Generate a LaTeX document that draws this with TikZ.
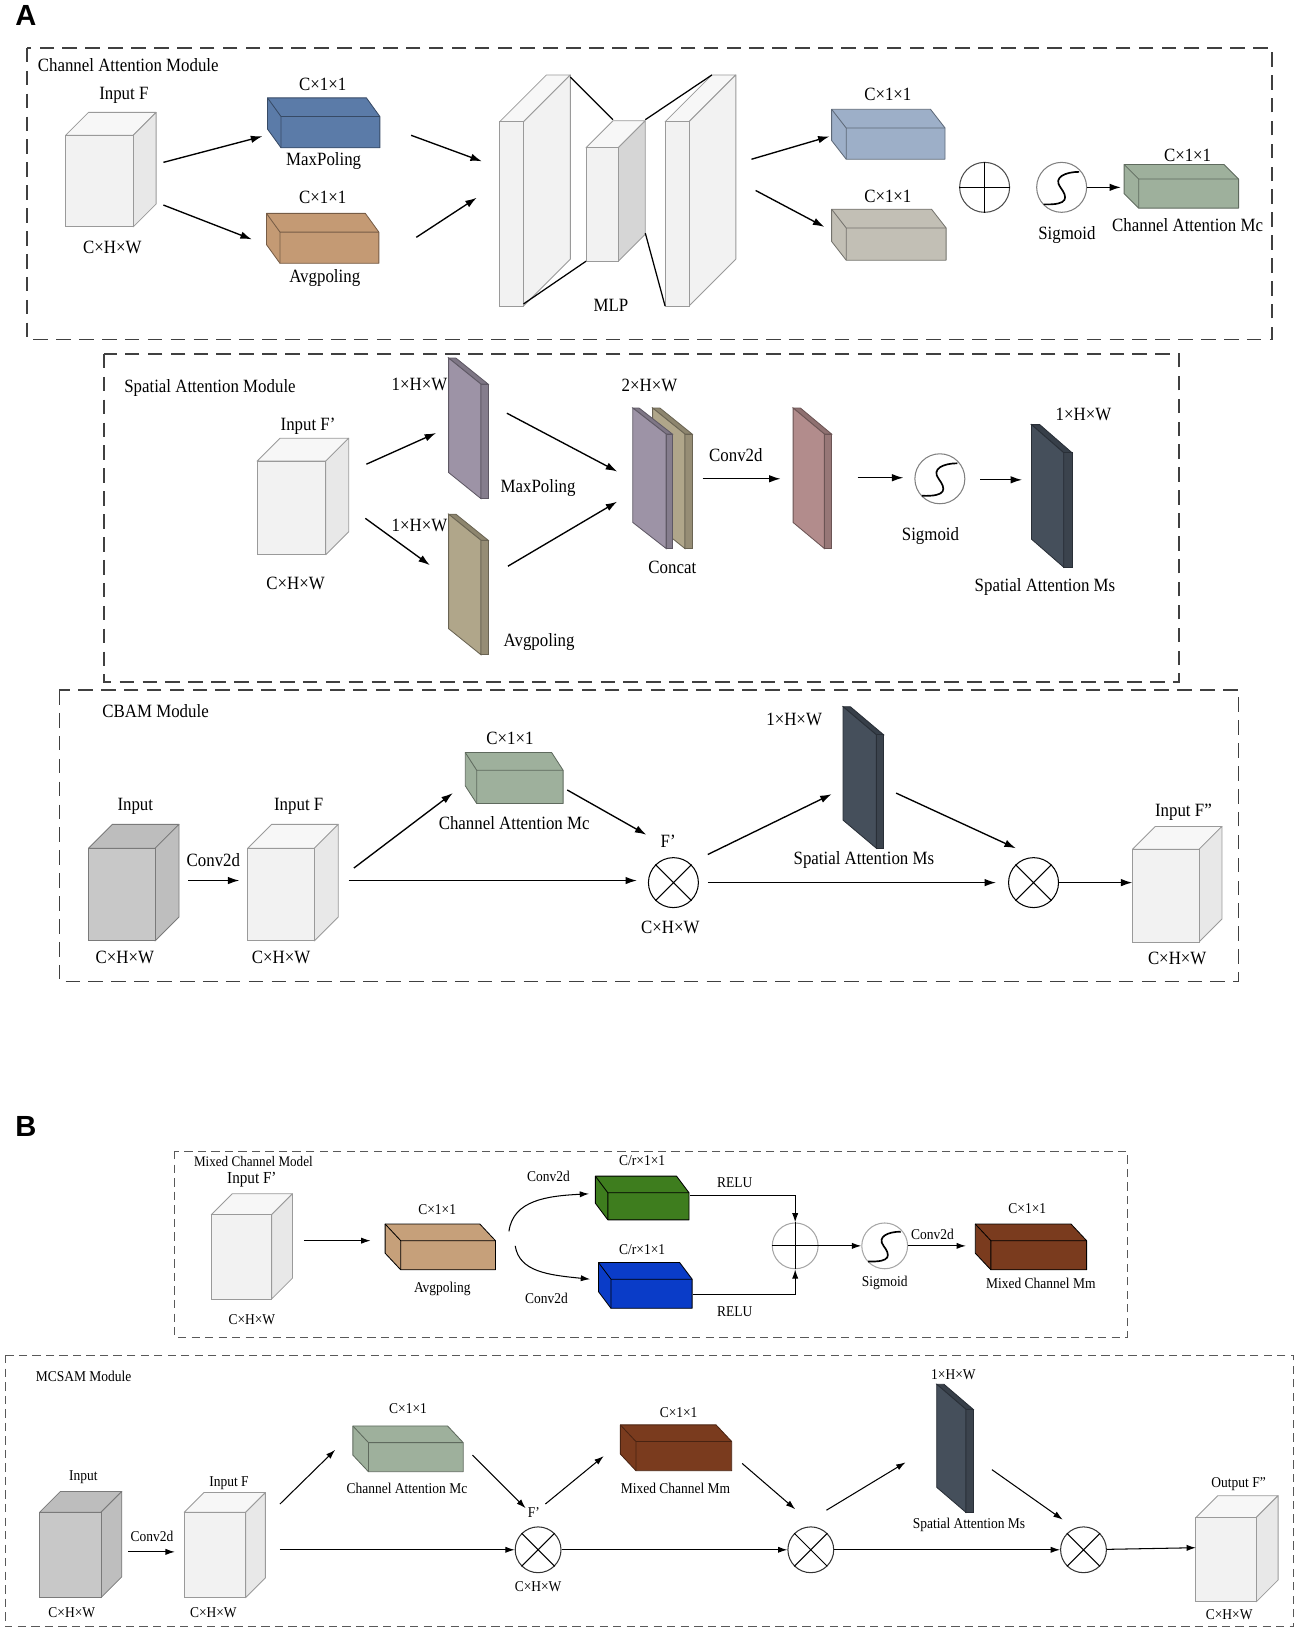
\documentclass[tikz,border=0pt]{standalone}
\usepackage{fontspec}
\setmainfont{Liberation Serif}[FakeStretch=0.9]
\newfontfamily\panelfont{Liberation Sans}
\usepackage{tikz}
\usepackage{xcolor}
\usetikzlibrary{calc,
	positioning,
	shapes,
	arrows.meta}
\definecolor{cubeF}{HTML}{F2F2F2}
\definecolor{cubeT}{HTML}{F7F7F7}
\definecolor{cubeS}{HTML}{E8E8E8}
\definecolor{cubeE}{HTML}{9A9A9A}
\definecolor{grayF}{HTML}{C8C8C8}
\definecolor{grayT}{HTML}{BDBDBD}
\definecolor{grayS}{HTML}{BEBEBE}
\definecolor{grayE}{HTML}{7A7A7A}
\definecolor{mlpS}{HTML}{D6D6D6}
\definecolor{maxblue}{HTML}{5B7BA8}
\definecolor{avgtan}{HTML}{C49A74}
\definecolor{ltblue}{HTML}{9DAFC8}
\definecolor{ltgray}{HTML}{C2BFB5}
\definecolor{mcgreen}{HTML}{9EB09C}
\definecolor{slpurple}{HTML}{9D93A6}
\definecolor{sltan}{HTML}{B0A68A}
\definecolor{slpink}{HTML}{B28C8C}
\definecolor{sldark}{HTML}{454F5B}
\definecolor{bgreen}{HTML}{3E7D1E}
\definecolor{bblue}{HTML}{0A3CC8}
\definecolor{bbrown}{HTML}{7A3B1E}
\definecolor{btan}{HTML}{C6A07A}
\tikzstyle{la}=[font=\fontsize{9}{10}\selectfont, inner sep=0.5pt]
\tikzstyle{lb}=[font=\fontsize{7.2}{8}\selectfont, inner sep=0.5pt]
\tikzstyle{pnl}=[font=\panelfont\bfseries\fontsize{14}{16}\selectfont, inner sep=0]
\tikzstyle{modA}=[draw=black!75, line width=0.75pt, dash pattern=on 7pt off 4pt]
\tikzstyle{modB}=[draw=black!65, line width=0.6pt, dash pattern=on 4pt off 2.5pt]
\tikzstyle{arr}=[-{Latex[length=5.5pt,width=3.6pt]}, line width=0.65pt]
\tikzstyle{arrb}=[-{Latex[length=4.5pt,width=3pt]}, line width=0.5pt]
\tikzstyle{opA}=[circle, draw=black!70, line width=0.5pt, minimum size=24pt, inner sep=0]
\tikzstyle{opB}=[circle, draw=black!80, line width=0.5pt, minimum size=22pt, inner sep=0]
\tikzstyle{sgB}=[circle, draw=black!35, line width=0.5pt, minimum size=22pt, inner sep=0]
% cube: front top-left (#1,#2), width #3, height #4, depth #5, fills #6 #7 #8, edge #9
\newcommand{\cubebox}[9]{%
  \filldraw[draw=#9, fill=#7, line join=round] (#1,#2) -- ++(#5,-#5) -- ++(#3,0) -- ++(-#5,#5) -- cycle;
  \filldraw[draw=#9, fill=#8, line join=round] (#1+#3,#2) -- ++(#5,-#5) -- ++(0,#4) -- ++(-#5,#5) -- cycle;
  \filldraw[draw=#9, fill=#6] (#1,#2) rectangle ++(#3,#4);}
% block: back top-left (#1,#2), width #3, height #4, offset (#5,#6), fill #7, edge #8
\newcommand{\blockbox}[8]{%
  \filldraw[draw=#8, fill=#7, line join=round] (#1,#2) -- ++(#3-#5,0) -- ++(#5,#6) -- ++(0,#4-#6) -- ++(-#3+#5,0) -- ++(-#5,-#6) -- cycle;
  \draw[#8] (#1,#2) -- ++(#5,#6) -- ++(#3-#5,0) ++(-#3+#5,0) -- ++(0,#4-#6);}
% slab: top-left (#1,#2), face width #3, drop #4, height #5, thickness #6, fill #7
\newcommand{\slab}[7]{%
  \filldraw[draw=#7!60!black, fill=#7!80!black, line width=0.4pt] (#1,#2) -- ++(#6,0) -- ++(#3,#4) -- ++(-#6,0) -- cycle;
  \filldraw[draw=#7!60!black, fill=#7!85!black, line width=0.4pt] (#1+#3,#2+#4) -- ++(#6,0) -- ++(0,#5) -- ++(-#6,0) -- cycle;
  \filldraw[draw=#7!60!black, fill=#7, line width=0.4pt] (#1,#2) -- ++(#3,#4) -- ++(0,#5) -- ++(-#3,-#4) -- cycle;}
\newcommand{\otm}[1]{\draw[line width=0.5pt] (#1.north west) -- (#1.south east) (#1.north east) -- (#1.south west);}
\newcommand{\opl}[1]{\draw[line width=0.6pt] (#1.north) -- (#1.south) (#1.west) -- (#1.east);}
\newcommand{\sshape}[2]{\draw[line width=0.8pt, shift={(#1)}, scale=#2] (0.7,-0.62) .. controls (0.15,-0.62) and (-0.35,-0.4) .. (-0.05,0) .. controls (0.25,0.4) and (0.3,0.72) .. (-0.72,0.68);}

\begin{document}
\begin{tikzpicture}[x=0.5pt, y=-0.5pt]
\useasboundingbox (0,0) rectangle (1248,1568);

\node[pnl] (pA) at (25,15) {A};
\node[pnl] (pB) at (25,1082) {B};

% ---------------- Channel Attention Module
\draw[modA] (26,46) rectangle (1222,326);
\node[la, anchor=west] (camT) at (35,63) {Channel Attention Module};
\cubebox{63}{130}{65}{88}{22}{cubeF}{cubeT}{cubeS}{cubeE}
\node[la] (camIn) at (119,92) {Input F};
\node[la] (camInD) at (108,238) {C×H×W};
\blockbox{257}{94}{108}{48}{13}{18}{maxblue}{maxblue!60!black}
\node[la] (camMxD) at (310,81) {C×1×1};
\node[la] (camMx) at (311,155) {MaxPoling};
\blockbox{256}{205}{108}{48}{13}{18}{avgtan}{avgtan!60!black}
\node[la] (camAvD) at (310,190) {C×1×1};
\node[la] (camAv) at (312,267) {Avgpoling};
% MLP
\cubebox{480}{117}{23}{177}{45}{cubeF}{cubeT}{cubeF}{cubeE}
\cubebox{563}{142}{31}{109}{26}{cubeF}{cubeT}{mlpS}{cubeE}
\cubebox{639}{117}{23}{177}{45}{cubeF}{cubeT}{cubeF}{cubeE}
\coordinate (ml1) at (548,74); \coordinate (ml2) at (589,115);
\coordinate (ml3) at (503,292); \coordinate (ml4) at (563,251);
\coordinate (ml5) at (620,115); \coordinate (ml6) at (684,72);
\coordinate (ml7) at (620,224); \coordinate (ml8) at (639,294);
\draw[line width=0.6pt] (ml1) -- (ml2) (ml3) -- (ml4) (ml5) -- (ml6) (ml7) -- (ml8);
\node[la] (camMlp) at (587,293) {MLP};
\blockbox{799}{105}{109}{48}{14}{18}{ltblue}{ltblue!60!black}
\node[la] (camB1D) at (853,91) {C×1×1};
\blockbox{799}{201}{110}{49}{14}{18}{ltgray}{ltgray!60!black}
\node[la] (camB2D) at (853,189) {C×1×1};
\node[opA] (pl1) at (946,180) {};
\opl{pl1}
\node[opA, draw=black!50] (sg1) at (1020,180) {};
\sshape{sg1}{24}
\node[la] (camSg) at (1025,226) {Sigmoid};
\blockbox{1080}{158}{110}{42}{14}{14}{mcgreen}{mcgreen!60!black}
\node[la] (camMcD) at (1141,149) {C×1×1};
\node[la] (camMc) at (1141,216) {Channel Attention Mc};
\coordinate (ca1) at (157,156); \coordinate (ca2) at (252,131);
\coordinate (ca3) at (157,197); \coordinate (ca4) at (242,230);
\coordinate (ca5) at (395,130); \coordinate (ca6) at (463,155);
\coordinate (ca7) at (400,228); \coordinate (ca8) at (458,190);
\coordinate (ca9) at (722,153); \coordinate (ca10) at (797,131);
\coordinate (ca11) at (726,183); \coordinate (ca12) at (792,218);
\coordinate (ca13) at (1077,180);
\draw[arr] (ca1) -- (ca2);
\draw[arr] (ca3) -- (ca4);
\draw[arr] (ca5) -- (ca6);
\draw[arr] (ca7) -- (ca8);
\draw[arr] (ca9) -- (ca10);
\draw[arr] (ca11) -- (ca12);
\draw[arr] (sg1) -- (ca13);

% ---------------- Spatial Attention Module
\draw[modA] (100,340) rectangle (1133,655);
\node[la, anchor=west] (samT) at (118,373) {Spatial Attention Module};
\cubebox{247}{443}{66}{90}{22}{cubeF}{cubeT}{cubeS}{cubeE}
\node[la] (samIn) at (296,410) {Input F’};
\node[la] (samInD) at (284,561) {C×H×W};
\slab{431}{344}{31}{25}{110}{7}{slpurple}
\slab{431}{494}{31}{25}{110}{7}{sltan}
\node[la] (samMxD) at (403,369) {1×H×W};
\node[la] (samAvD) at (403,505) {1×H×W};
\node[la] (samMx) at (517,469) {MaxPoling};
\node[la] (samAv) at (518,617) {Avgpoling};
\slab{627}{392}{31}{25}{110}{7}{sltan}
\slab{608}{392}{32}{25}{110}{6}{slpurple}
\node[la] (samCcD) at (624,370) {2×H×W};
\node[la] (samCc) at (646,545) {Concat};
\node[la] (samCv) at (707,437) {Conv2d};
\slab{762}{392}{30}{25}{110}{7}{slpink}
\node[opA, draw=black!50] (sg2) at (903,460) {};
\sshape{sg2}{24}
\node[la] (samSg) at (894,515) {Sigmoid};
\slab{991}{408}{31}{27}{110}{8}{sldark}
\node[la] (samMsD) at (1041,398) {1×H×W};
\node[la] (samMs) at (1004,564) {Spatial Attention Ms};
\coordinate (sa1) at (352,446); \coordinate (sa2) at (419,416);
\coordinate (sa3) at (351,498); \coordinate (sa4) at (413,543);
\coordinate (sa5) at (487,397); \coordinate (sa6) at (593,453);
\coordinate (sa7) at (488,544); \coordinate (sa8) at (593,482);
\coordinate (sa9) at (675,460); \coordinate (sa10) at (750,460);
\coordinate (sa11) at (824,459); \coordinate (sa12) at (868,459);
\coordinate (sa13) at (942,461); \coordinate (sa14) at (982,461);
\draw[arr] (sa1) -- (sa2);
\draw[arr] (sa3) -- (sa4);
\draw[arr] (sa5) -- (sa6);
\draw[arr] (sa7) -- (sa8);
\draw[arr] (sa9) -- (sa10);
\draw[arr] (sa11) -- (sa12);
\draw[arr] (sa13) -- (sa14);

% ---------------- CBAM Module
\draw[modA] (57,663) rectangle (1190,943);
\node[la, anchor=west] (cbT) at (97,683) {CBAM Module};
\cubebox{85}{815}{64}{89}{23}{grayF}{grayT}{grayS}{grayE}
\node[la] (cbIn) at (130,775) {Input};
\node[la] (cbInD) at (120,920) {C×H×W};
\node[la] (cbCv) at (205,826) {Conv2d};
\cubebox{238}{815}{64}{89}{23}{cubeF}{cubeT}{cubeS}{cubeE}
\node[la] (cbF) at (287,775) {Input F};
\node[la] (cbFD) at (270,920) {C×H×W};
\blockbox{447}{723}{94}{49}{11}{17}{mcgreen}{mcgreen!60!black}
\node[la] (cbMcD) at (490,709) {C×1×1};
\node[la] (cbMc) at (494,791) {Channel Attention Mc};
\node[opA, draw=black] (ot1) at (647,848) {};
\otm{ot1}
\node[la] (cbFp) at (642,808) {F’};
\node[la] (cbFpD) at (644,891) {C×H×W};
\slab{810}{679}{32}{27}{109}{7}{sldark}
\node[la] (cbMsD) at (763,691) {1×H×W};
\node[la] (cbMs) at (830,826) {Spatial Attention Ms};
\node[opA, draw=black] (ot2) at (993,848) {};
\otm{ot2}
\cubebox{1088}{816}{64}{89}{22}{cubeF}{cubeT}{cubeS}{cubeE}
\node[la] (cbOut) at (1137,780) {Input F”};
\node[la] (cbOutD) at (1131,921) {C×H×W};
\coordinate (cb1) at (181,846); \coordinate (cb2) at (230,846);
\coordinate (cb3) at (340,834); \coordinate (cb4) at (435,762);
\coordinate (cb5) at (545,759); \coordinate (cb6) at (621,802);
\coordinate (cb7) at (335,846); \coordinate (cb8) at (612,846);
\coordinate (cb9) at (680,821); \coordinate (cb10) at (799,763);
\coordinate (cb11) at (861,762); \coordinate (cb12) at (976,815);
\coordinate (cb13) at (680,848); \coordinate (cb14) at (957,848);
\coordinate (cb15) at (1088,848);
\draw[arr] (cb1) -- (cb2);
\draw[arr] (cb3) -- (cb4);
\draw[arr] (cb5) -- (cb6);
\draw[arr] (cb7) -- (cb8);
\draw[arr] (cb9) -- (cb10);
\draw[arr] (cb11) -- (cb12);
\draw[arr] (cb13) -- (cb14);
\draw[arr] (ot2) -- (cb15);

% ---------------- Mixed Channel Model
\draw[modB] (168,1106) rectangle (1083,1285);
\node[lb, font=\fontsize{7}{8}\selectfont, anchor=west] (mcT) at (185,1116) {Mixed Channel Model};
\node[lb, font=\fontsize{8.1}{9}\selectfont] (mcIn) at (242,1133) {Input F'};
\cubebox{203}{1167}{58}{81}{20}{cubeF}{cubeT}{cubeS}{cubeE}
\node[lb] (mcInD) at (242,1268) {C×H×W};
\blockbox{370}{1176}{106}{44}{15}{16}{btan}{black}
\node[lb] (mcAvD) at (420,1162) {C×1×1};
\node[lb] (mcAv) at (425,1238) {Avgpoling};
\node[lb] (mcCv1) at (527,1130) {Conv2d};
\node[lb] (mcCv2) at (525,1247) {Conv2d};
\blockbox{572}{1130}{90}{42}{12}{16}{bgreen}{black}
\node[lb] (mcGD) at (617,1115) {C/r×1×1};
\blockbox{575}{1213}{90}{44}{12}{16}{bblue}{black}
\node[lb] (mcBD) at (617,1201) {C/r×1×1};
\node[lb] (mcR1) at (706,1136) {RELU};
\node[lb] (mcR2) at (706,1260) {RELU};
\node[sgB] (op) at (764,1197) {};
\opl{op}
\node[sgB] (sg3) at (850,1197) {};
\sshape{sg3}{22}
\node[lb] (mcSg) at (850,1233) {Sigmoid};
\node[lb] (mcCv3) at (896,1186) {Conv2d};
\blockbox{937}{1176}{107}{44}{15}{16}{bbrown}{black}
\node[lb] (mcMmD) at (987,1161) {C×1×1};
\node[lb] (mcMm) at (1000,1233) {Mixed Channel Mm};
\coordinate (mc1) at (292,1192); \coordinate (mc2) at (356,1192);
\coordinate (mc3) at (489,1183); \coordinate (mc4) at (566,1147);
\coordinate (mc5) at (495,1197); \coordinate (mc6) at (567,1229);
\coordinate (mc7) at (663,1149); \coordinate (mc8) at (666,1244);
\coordinate (mc9) at (928,1197);
\draw[arrb] (mc1) -- (mc2);
\draw[arrb] (mc3) .. controls +(4,-30) and +(-40,2) .. (mc4);
\draw[arrb] (mc5) .. controls +(4,25) and +(-40,-4) .. (mc6);
\draw[arrb] (mc7) -| (op);
\draw[arrb] (mc8) -| (op);
\draw[arrb] (op) -- (sg3);
\draw[arrb] (sg3) -- (mc9);

% ---------------- MCSAM Module
\draw[modB] (5,1302) rectangle (1243,1563);
\node[lb, anchor=west] (msT) at (33,1322) {MCSAM Module};
\cubebox{38}{1453}{59}{82}{20}{grayF}{grayT}{grayS}{grayE}
\node[lb] (msIn) at (80,1419) {Input};
\node[lb] (msInD) at (69,1549) {C×H×W};
\node[lb] (msCv) at (146,1476) {Conv2d};
\cubebox{177}{1453}{59}{82}{19}{cubeF}{cubeT}{cubeS}{cubeE}
\node[lb] (msF) at (220,1425) {Input F};
\node[lb] (msFD) at (205,1549) {C×H×W};
\blockbox{339}{1370}{106}{44}{15}{16}{mcgreen}{mcgreen!60!black}
\node[lb] (msMcD) at (392,1353) {C×1×1};
\node[lb] (msMc) at (391,1430) {Channel Attention Mc};
\node[opB] (ot3) at (517,1489) {};
\otm{ot3}
\node[lb] (msFp) at (513,1453) {F'};
\node[lb] (msFpD) at (517,1524) {C×H×W};
\blockbox{596}{1369}{107}{44}{15}{16}{bbrown}{bbrown!60!black}
\node[lb] (msMmD) at (652,1357) {C×1×1};
\node[lb] (msMm) at (649,1430) {Mixed Channel Mm};
\node[opB] (ot4) at (779,1489) {};
\otm{ot4}
\slab{900}{1330}{28}{24}{99}{7}{sldark}
\node[lb] (msMsD) at (916,1321) {1×H×W};
\node[lb] (msMs) at (931,1465) {Spatial Attention Ms};
\node[opB] (ot5) at (1041,1489) {};
\otm{ot5}
\cubebox{1149}{1458}{58}{81}{21}{cubeF}{cubeT}{cubeS}{cubeE}
\node[lb] (msOut) at (1190,1426) {Output F"};
\node[lb] (msOutD) at (1181,1551) {C×H×W};
\coordinate (ms1) at (123,1491); \coordinate (ms2) at (168,1491);
\coordinate (ms3) at (269,1445); \coordinate (ms4) at (322,1393);
\coordinate (ms5) at (454,1398); \coordinate (ms6) at (505,1449);
\coordinate (ms7) at (269,1489);
\coordinate (ms8) at (524,1445); \coordinate (ms9) at (580,1399);
\coordinate (ms10) at (713,1406); \coordinate (ms11) at (764,1450);
\coordinate (ms12) at (794,1451); \coordinate (ms13) at (870,1405);
\coordinate (ms14) at (953,1412); \coordinate (ms15) at (1021,1460);
\coordinate (ms16) at (1149,1487);
\draw[arrb] (ms1) -- (ms2);
\draw[arrb] (ms3) -- (ms4);
\draw[arrb] (ms5) -- (ms6);
\draw[arrb] (ms7) -- (ot3);
\draw[arrb] (ms8) -- (ms9);
\draw[arrb] (ms10) -- (ms11);
\draw[arrb] (ot3) -- (ot4);
\draw[arrb] (ms12) -- (ms13);
\draw[arrb] (ms14) -- (ms15);
\draw[arrb] (ot4) -- (ot5);
\draw[arrb] (ot5) -- (ms16);
\end{tikzpicture}
\end{document}
